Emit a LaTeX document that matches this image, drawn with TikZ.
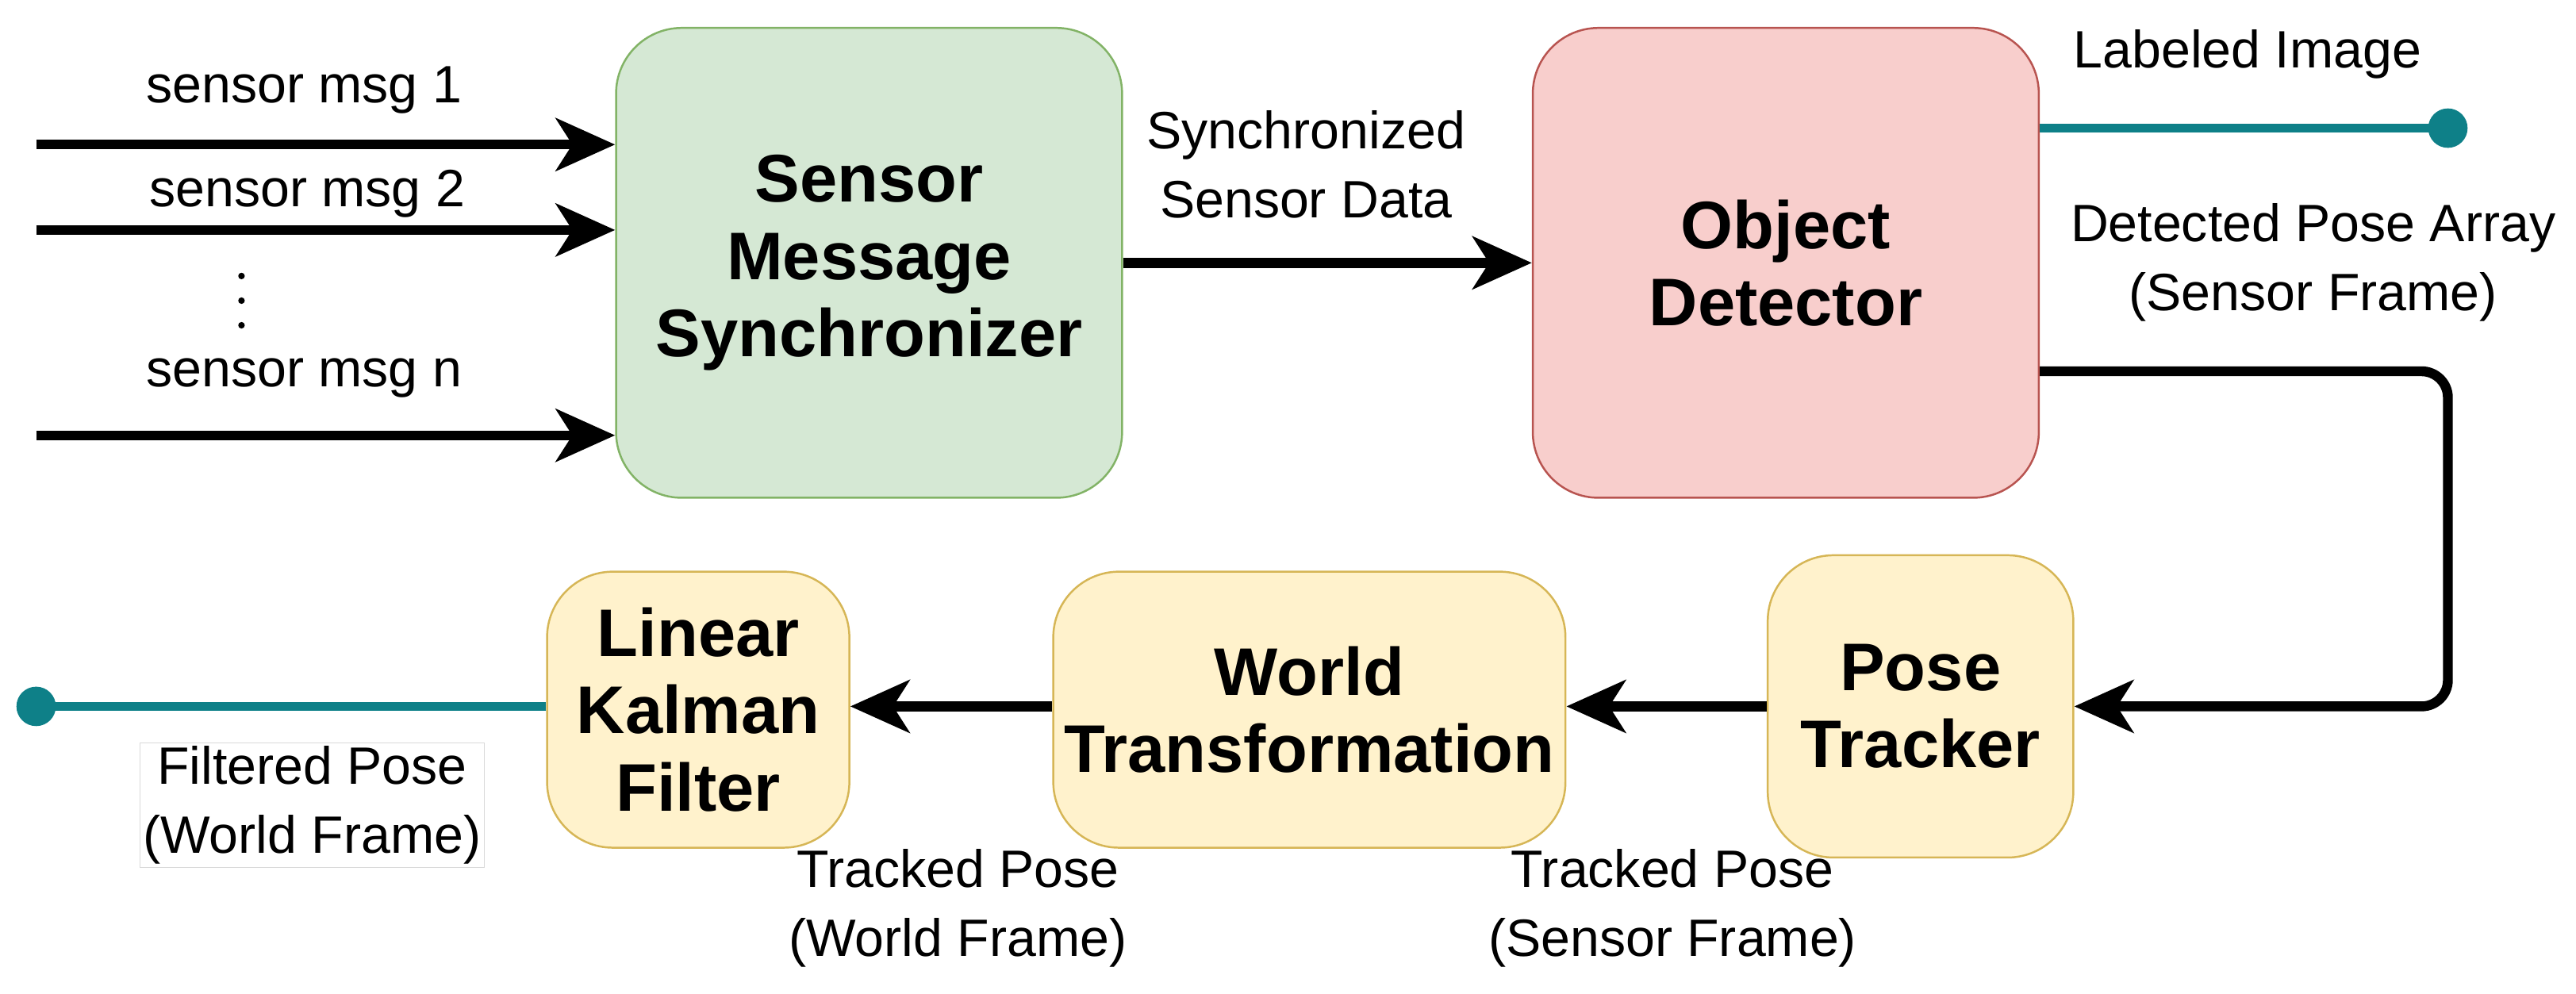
\documentclass[tikz,border=0pt]{standalone}
\usepackage{fontspec}
\setmainfont{Liberation Sans}
\usetikzlibrary{arrows.meta}
\definecolor{gf}{HTML}{D5E8D4}\definecolor{gs}{HTML}{82B366}
\definecolor{rf}{HTML}{F8CECC}\definecolor{rs}{HTML}{B85450}
\definecolor{yf}{HTML}{FFF2CC}\definecolor{ys}{HTML}{D6B656}
\definecolor{teal}{HTML}{0E8088}
\begin{document}
\begin{tikzpicture}[x=0.5pt,y=-0.5pt,
 box/.style={draw,line width=0.6pt,rounded corners=20pt,align=center,font=\fontsize{20.5}{23.5}\selectfont\bfseries},
 lbl/.style={align=center,font=\fontsize{16}{21}\selectfont},
 arr/.style={line width=3pt,-{Stealth[length=18pt,width=16pt,inset=5pt]}},
 tl/.style={line width=2.8pt,teal}]
\useasboundingbox (0,0) rectangle (1568,605);
\node[box,fill=gf,draw=gs,minimum width=154pt,minimum height=143pt] (sync) at (529,160) {Sensor\\Message\\Synchronizer};
\node[box,fill=rf,draw=rs,minimum width=154pt,minimum height=143pt] (det) at (1087,160) {Object\\Detector};
\node[box,fill=yf,draw=ys,minimum width=93pt,minimum height=92pt] (pt) at (1169,430) {Pose\\Tracker};
\node[box,fill=yf,draw=ys,minimum width=154pt,minimum height=84pt] (wt) at (797,432) {World\\Transformation};
\node[box,fill=yf,draw=ys,minimum width=92pt,minimum height=84pt] (kf) at (425,432) {Linear\\Kalman\\Filter};
\coordinate (i1) at (22,88); \coordinate (i2) at (22,140); \coordinate (i3) at (22,265);
\draw[arr] (i1) -- (i1 -| sync.west);
\draw[arr] (i2) -- (i2 -| sync.west);
\draw[arr] (i3) -- (i3 -| sync.west);
\node[lbl] (l1) at (185,55) {sensor msg 1};
\node[lbl] (l2) at (187,118) {sensor msg 2};
\foreach \yy in {168,183,198} \fill (147,\yy) circle (1pt);
\node[lbl] (ln) at (185,230) {sensor msg n};
\draw[arr] (sync.east) -- (det.west);
\node[lbl] (sl) at (795,100) {Synchronized\\Sensor Data};
\coordinate (li) at (1490,78);
\draw[tl] (li -| det.east) -- (li);
\fill[teal] (li) circle (6pt);
\node[lbl] (lil) at (1368,33) {Labeled Image};
\node[lbl] (dpa) at (1408,160) {Detected Pose Array\\(Sensor Frame)};
\coordinate (c1) at (1490,226);
\draw[arr,rounded corners=8pt] (c1 -| det.east) -- (c1) -- (1490,430) -- (pt.east);
\draw[arr] (pt.west) -- (wt.east |- pt.west);
\draw[arr] (wt.west |- pt.west) -- (kf.east |- pt.west);
\coordinate (fo) at (22,430);
\draw[tl] (kf.west |- fo) -- (fo);
\fill[teal] (fo) circle (6pt);
\node[lbl,draw=black!15,line width=0.3pt,inner sep=1pt] (fp) at (190,490) {Filtered Pose\\(World Frame)};
\node[lbl] (tw) at (583,553) {Tracked Pose\\(World Frame)};
\node[lbl] (ts) at (1018,553) {Tracked Pose\\(Sensor Frame)};
\end{tikzpicture}
\end{document}
